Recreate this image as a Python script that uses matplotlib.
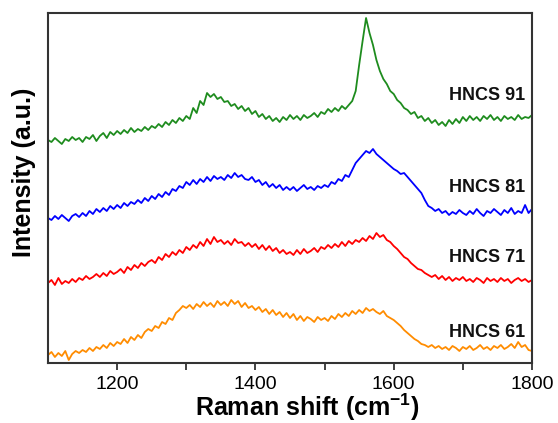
import numpy as np
import matplotlib
matplotlib.use("Agg")
import matplotlib.pyplot as plt

plt.rcParams['font.family'] = ['Liberation Sans', 'DejaVu Sans']
plt.rcParams['mathtext.fontset'] = 'custom'
plt.rcParams['mathtext.rm'] = 'Liberation Sans'
plt.rcParams['mathtext.bf'] = 'Liberation Sans:bold'

# Raman shift axis (cm-1), sampled every 5 cm-1
shift_start, shift_stop, shift_step = 1100, 1800, 5

hncs91 = [223, 221, 225, 222, 219, 224, 222, 226, 223, 225,
          221, 226, 224, 228, 222, 227, 230, 225, 231, 228,
          232, 229, 233, 230, 235, 231, 234, 232, 236, 233,
          237, 235, 239, 236, 241, 238, 243, 240, 245, 242,
          247, 244, 255, 250, 262, 258, 270, 266, 269, 264,
          266, 261, 262, 257, 259, 254, 257, 252, 255, 249,
          252, 246, 249, 244, 247, 242, 245, 241, 246, 243,
          248, 244, 247, 243, 248, 245, 247, 250, 246, 251,
          249, 254, 251, 255, 252, 257, 254, 258, 262, 272,
          298, 322, 345, 330, 318, 303, 292, 284, 279, 272,
          269, 263, 260, 255, 253, 249, 251, 245, 247, 242,
          245, 240, 243, 238, 241, 237, 243, 239, 244, 240,
          246, 242, 247, 243, 246, 242, 247, 244, 248, 243,
          246, 242, 247, 244, 246, 243, 248, 244, 246, 245,
          248]

hncs81 = [145, 143, 147, 144, 148, 145, 142, 147, 149, 146,
          150, 147, 152, 149, 154, 151, 155, 152, 157, 154,
          158, 155, 160, 157, 161, 159, 163, 160, 165, 162,
          167, 164, 169, 166, 171, 168, 174, 172, 177, 175,
          181, 178, 183, 179, 184, 181, 186, 182, 187, 184,
          186, 183, 188, 185, 190, 186, 188, 184, 183, 186,
          181, 183, 178, 181, 176, 179, 175, 178, 173, 176,
          173, 176, 172, 175, 178, 174, 176, 173, 177, 175,
          178, 176, 181, 179, 184, 182, 188, 186, 193, 200,
          204, 208, 212, 210, 214, 209, 206, 203, 200, 197,
          194, 192, 189, 190, 186, 182, 178, 174, 170, 163,
          157, 155, 152, 154, 150, 152, 148, 151, 149, 153,
          150, 148, 152, 149, 154, 150, 147, 152, 150, 154,
          151, 148, 153, 150, 155, 149, 152, 150, 158, 150,
          154]

hncs71 = [80, 83, 78, 85, 79, 82, 80, 84, 81, 85,
          83, 87, 84, 86, 89, 86, 90, 87, 92, 89,
          91, 94, 90, 96, 93, 98, 95, 100, 97, 101,
          103, 100, 106, 103, 109, 106, 111, 108, 113, 110,
          116, 113, 118, 115, 121, 117, 124, 119, 126, 121,
          123, 119, 122, 118, 124, 120, 121, 117, 120, 116,
          119, 114, 118, 113, 117, 112, 115, 110, 113, 109,
          111, 108, 113, 109, 114, 110, 112, 115, 111, 116,
          114, 118, 115, 119, 116, 121, 117, 122, 119, 123,
          121, 125, 122, 127, 124, 130, 126, 128, 123, 121,
          117, 114, 110, 106, 104, 100, 97, 94, 93, 90,
          88, 86, 88, 84, 87, 83, 86, 82, 85, 83,
          86, 82, 84, 81, 85, 83, 80, 85, 82, 84,
          81, 85, 82, 84, 80, 83, 85, 82, 84, 81,
          83]

hncs61 = [8, 11, 6, 10, 7, 12, 3, 9, 12, 10,
          13, 11, 15, 12, 16, 14, 18, 15, 20, 17,
          21, 19, 24, 20, 26, 23, 28, 25, 31, 34,
          32, 37, 35, 41, 39, 45, 43, 50, 53, 57,
          55, 58, 54, 59, 56, 61, 57, 60, 56, 62,
          58, 61, 57, 63, 59, 62, 56, 60, 55, 57,
          53, 56, 51, 54, 49, 53, 48, 51, 46, 50,
          45, 49, 43, 47, 42, 46, 44, 41, 46, 43,
          45, 42, 47, 44, 49, 46, 50, 47, 52, 49,
          53, 50, 55, 52, 54, 51, 49, 52, 47, 45,
          43, 40, 37, 33, 30, 27, 24, 22, 19, 18,
          16, 18, 15, 17, 14, 16, 13, 17, 15, 12,
          16, 14, 17, 13, 15, 18, 14, 16, 13, 17,
          15, 18, 14, 16, 19, 15, 21, 16, 18, 13,
          12]

series_names = ["HNCS 91", "HNCS 81", "HNCS 71", "HNCS 61"]
series_values = [hncs91, hncs81, hncs71, hncs61]
series_colors = ["#1e8c1e", "#0000ff", "#ff0000", "#ff8c00"]
label_levels = [268, 176, 105, 31]

xtick_values = [1200, 1300, 1400, 1500, 1600, 1700, 1800]
xtick_labels = ["1200", "", "1400", "", "1600", "", "1800"]

shift = np.arange(shift_start, shift_stop + 1, shift_step)

fig = plt.figure(figsize=(5.58, 4.23), dpi=100)
ax = fig.add_axes([48/558, 1 - 363/423, (532-48)/558, (363-13)/423])

for name, vals, col, lev in zip(series_names, series_values, series_colors, label_levels):
    ax.plot(shift, vals, color=col, lw=1.3)
    ax.text(1790, lev, name, ha='right', va='center', fontsize=13,
            fontweight='bold', color='#111111')

ax.set_xlim(1100, 1800)
ax.set_ylim(0, 350)
ax.set_xticks(xtick_values)
ax.set_xticklabels(xtick_labels, fontsize=14)
ax.set_yticks([])
ax.tick_params(axis='x', direction='out', length=5, width=1.3, pad=4, color='#333333')
for s in ax.spines.values():
    s.set_linewidth(1.5)
    s.set_color('#333333')

ax.set_xlabel("Raman shift (cm$^{\\mathbf{-1}}$)", fontsize=18, fontweight='bold')
ax.set_ylabel("Intensity (a.u.)", fontsize=18, fontweight='bold')
ax.yaxis.set_label_coords(-0.025, 0.545)
ax.xaxis.set_label_coords(0.535, -0.082)

fig.savefig("out.png", dpi=100)
